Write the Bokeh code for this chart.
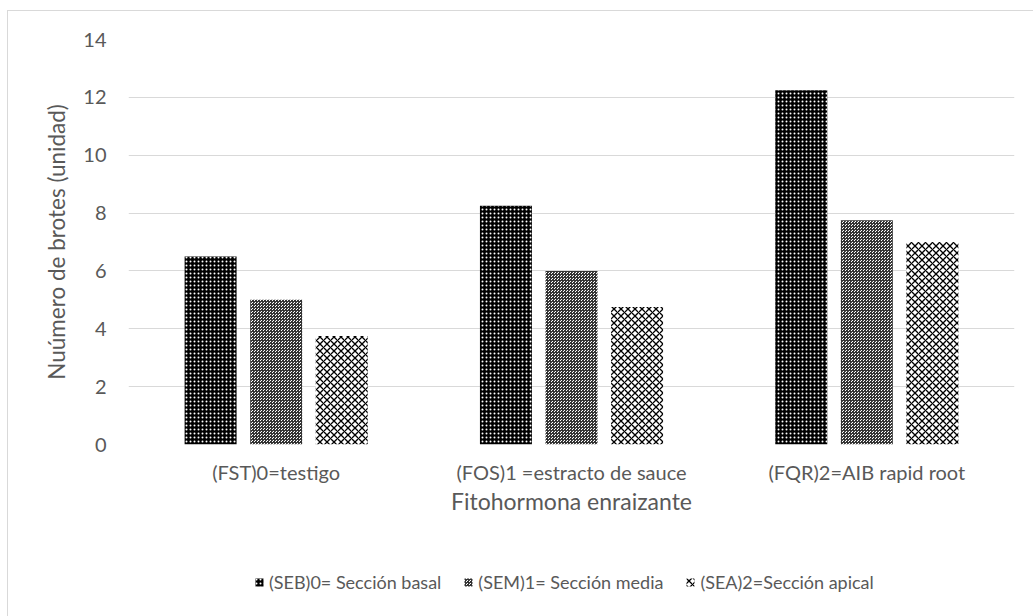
from bokeh.plotting import figure
from bokeh.models import ColumnDataSource, FactorRange, Legend, LegendItem
from bokeh.layouts import column
from bokeh.transform import dodge
from bokeh.embed import file_html
from bokeh.resources import INLINE

categories = ["(FST)0=testigo", "(FOS)1 =estracto de sauce", "(FQR)2=AIB rapid root"]
basal = [6.5, 8.25, 12.25]
media = [5.0, 6.0, 7.75]
apical = [3.75, 4.75, 7.0]
series_names = ["(SEB)0= Sección basal", "(SEM)1= Sección media", "(SEA)2=Sección apical"]
y_ticks = [0, 2, 4, 6, 8, 10, 12, 14]

src = ColumnDataSource(dict(cat=categories, basal=basal, media=media, apical=apical))
series_cols = ["basal", "media", "apical"]

FONT = "Lato"
TXT = "#595959"

styles = [
    dict(fill_color="black", line_color=None, hatch_pattern="dot", hatch_color="white",
         hatch_scale=4, hatch_weight=1),
    dict(fill_color="white", line_color=None, hatch_pattern="criss_cross", hatch_color="#333333",
         hatch_scale=3, hatch_weight=1),
    dict(fill_color="white", line_color=None, hatch_pattern="diagonal_cross", hatch_color="black",
         hatch_scale=7, hatch_weight=1.3),
]

bw = 0.176
offsets = [-0.222, 0.0, 0.222]

p = figure(x_range=FactorRange(factors=categories, range_padding=0), y_range=(0, 14),
           width=1025, height=511,
           min_border_left=120, min_border_top=28, min_border_right=19, min_border_bottom=78,
           output_backend="svg", toolbar_location=None)
p.outline_line_color = None
p.background_fill_color = "white"
p.border_fill_color = "white"

for col, o, st in zip(series_cols, offsets, styles):
    p.vbar(x=dodge("cat", o, range=p.x_range), top=col, width=bw, source=src, **st)

p.yaxis.ticker = y_ticks
p.xgrid.grid_line_color = None
p.ygrid.grid_line_color = "#d9d9d9"
p.ygrid.grid_line_width = 1

for ax in (p.xaxis[0], p.yaxis[0]):
    ax.axis_line_color = None
    ax.major_tick_line_color = None
    ax.minor_tick_line_color = None
    ax.major_label_text_font = FONT
    ax.major_label_text_color = TXT
    ax.axis_label_text_font = FONT
    ax.axis_label_text_color = TXT
    ax.axis_label_text_font_style = "normal"

p.yaxis.axis_label = "Nuúmero de brotes (unidad)"
p.yaxis.major_label_text_font_size = "20px"
p.yaxis.axis_label_text_font_size = "22.5px"
p.yaxis.major_label_standoff = 16
p.yaxis.axis_label_standoff = 10

p.xaxis.axis_label = "Fitohormona enraizante"
p.xaxis.major_label_text_font_size = "20px"
p.xaxis.axis_label_text_font_size = "23px"
p.xaxis.major_label_standoff = 9
p.xaxis.axis_label_standoff = 0

# legend strip: a second figure whose bars lie outside its view, so only the legend shows
p2 = figure(width=1025, height=94,
            x_range=FactorRange(factors=categories, range_padding=0), y_range=(100, 101),
            x_axis_type=None, y_axis_type=None,
            min_border_left=120, min_border_right=19, min_border_top=0, min_border_bottom=0,
            output_backend="svg", toolbar_location=None)
p2.outline_line_color = None
p2.grid.grid_line_color = None
p2.background_fill_color = "white"
p2.border_fill_color = "white"
items = []
for name, col, o, st in zip(series_names, series_cols, offsets, styles):
    r = p2.vbar(x=dodge("cat", o, range=p2.x_range), top=col, width=bw, source=src, **st)
    items.append(LegendItem(label=name, renderers=[r]))

legend = Legend(items=items, orientation="horizontal", location=(126, 23),
                glyph_width=10, glyph_height=10, label_standoff=5, spacing=22,
                padding=0, margin=0, border_line_color=None, background_fill_alpha=0,
                label_text_font=FONT, label_text_font_size="18px", label_text_color=TXT,
                label_height=20)
p2.add_layout(legend, "center")

layout = column(p, p2, spacing=0, margin=(10, 0, 0, 7),
                styles={"border-top": "1px solid #d9d9d9", "border-left": "1px solid #d9d9d9"})

open("out.html", "w").write(file_html(layout, INLINE))
